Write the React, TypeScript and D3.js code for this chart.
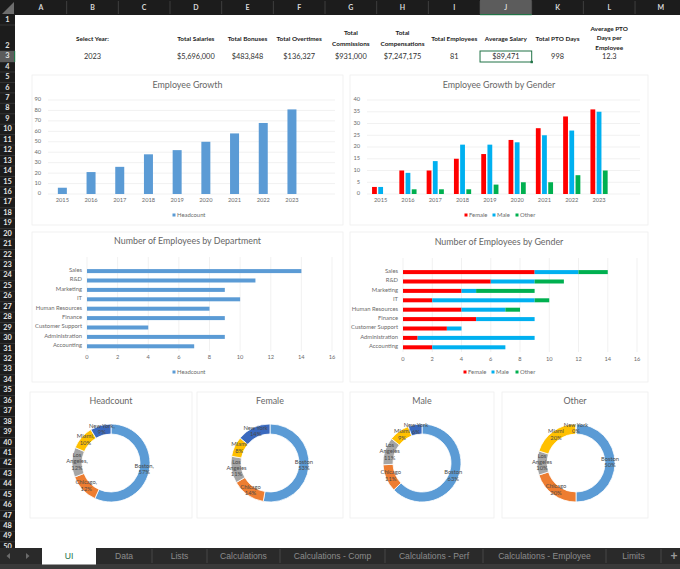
import React from 'react';
import * as d3 from 'd3';

const years = ['2015', '2016', '2017', '2018', '2019', '2020', '2021', '2022', '2023'];
const headcountByYear = [6, 21, 26, 38, 42, 50, 58, 68, 81];
const femaleByYear = [3, 10, 10, 15, 17, 23, 28, 33, 36];
const maleByYear = [3, 9, 14, 21, 21, 22, 25, 27, 35];
const otherByYear = [0, 2, 2, 2, 4, 5, 5, 8, 10];

const departments = ['Sales', 'R&D', 'Marketing', 'IT', 'Human Resources', 'Finance', 'Customer Support', 'Administration', 'Accounting'];
const headcountByDept = [14, 11, 9, 10, 8, 9, 4, 9, 7];
const femaleByDept = [9, 6, 4, 2, 4, 5, 3, 1, 2];
const maleByDept = [3, 3, 1, 7, 3, 4, 1, 8, 5];
const otherByDept = [2, 2, 4, 1, 1, 0, 0, 0, 0];

const cities = ['Boston', 'Chicago', 'Los Angeles', 'Miami', 'New York'];
const headcountByCity = [46, 10, 10, 8, 7];
const femaleByCity = [19, 5, 4, 3, 5];
const maleByCity = [22, 4, 4, 3, 2];
const otherByCity = [5, 2, 1, 2, 0];

const columnLetters = ['A', 'B', 'C', 'D', 'E', 'F', 'G', 'H', 'I', 'J', 'K', 'L', 'M'];
const kpiColumns = [1, 3, 4, 5, 6, 7, 8, 9, 10, 11];
const kpiLabels = [
  ['Select Year:'], ['Total Salaries'], ['Total Bonuses'], ['Total Overtimes'],
  ['Total', 'Commissions'], ['Total', 'Compensations'], ['Total Employees'],
  ['Average Salary'], ['Total PTO Days'], ['Average PTO', 'Days per', 'Employee'],
];
const kpiValues = ['2023', '$5,696,000', '$483,848', '$136,327', '$931,000', '$7,247,175', '81', '$89,471', '998', '12.3'];

const sheetTabs = ['UI', 'Data', 'Lists', 'Calculations', 'Calculations - Comp', 'Calculations - Perf', 'Calculations - Employee', 'Limits'];
const tabEdges = [42, 96, 152, 207, 280, 385, 483, 606, 661];

const BLUE = '#5B9BD5';
const RED = '#FF0000';
const CYAN = '#00B0F0';
const GREEN = '#00B050';
const cityColors = ['#5B9BD5', '#ED7D31', '#A5A5A5', '#FFC000', '#3A69BE'];
const FONT = 'Lato, "Open Sans", sans-serif';
const GRID = '#ebebeb';
const TICK = '#6a6a6a';

const colWidth = 51.67;
const colX = (i: number) => 15 + colWidth * i;
const rowTop = (n: number) => (n === 1 ? 15 : n === 2 ? 25 : n === 3 ? 51 : n === 4 ? 62 : 72 + (n - 5) * 10.44);
const rowBottom = (n: number) => (n === 1 ? 25 : n === 2 ? 51 : n === 3 ? 62 : n === 4 ? 72 : rowTop(n + 1));

type Box = { x0: number; x1: number; y0: number; y1: number };
type Series = { name: string; color: string; values: number[] };

const Card = ({ x0, x1, y0, y1 }: Box) => (
  <rect x={x0} y={y0} width={x1 - x0} height={y1 - y0} fill="#fff" stroke="#eeeeee" strokeWidth={0.8} />
);

const Title = ({ x, y, text }: { x: number; y: number; text: string }) => (
  <text x={x} y={y} textAnchor="middle" dominantBaseline="middle" fontFamily={FONT} fontSize={8.9} fill="#666">{text}</text>
);

const Legend = ({ series, xs, y }: { series: Series[]; xs: number[]; y: number }) => (
  <g>
    {series.map((s, i) => (
      <g key={s.name}>
        <rect x={xs[i] - 1.5} y={y - 1.5} width={3} height={3} fill={s.color} />
        <text x={xs[i] + 3} y={y} dominantBaseline="middle" fontFamily={FONT} fontSize={5.9} fill={TICK}>{s.name}</text>
      </g>
    ))}
  </g>
);

// clustered columns by year, the blank last band is what the sheet's range leaves empty
const ColumnChart = (props: {
  card: Box; plot: Box; max: number; step: number; title: string; titleY: number;
  series: Series[]; barW: number; gap: number; legendX: number[]; legendY: number; labelY: number;
}) => {
  const { card, plot, max, step, title, titleY, series, barW, gap, legendX, legendY, labelY } = props;
  const x = d3.scaleBand<string>().domain([...years, '']).range([plot.x0, plot.x1]);
  const y = d3.scaleLinear().domain([0, max]).range([plot.y1, plot.y0]);
  const groupW = series.length * barW + (series.length - 1) * gap;
  return (
    <g>
      <Card {...card} />
      <Title x={(card.x0 + card.x1) / 2} y={titleY} text={title} />
      {d3.range(0, max + step, step).map(t => (
        <g key={t}>
          <line x1={plot.x0} x2={plot.x1} y1={y(t)} y2={y(t)} stroke={GRID} strokeWidth={0.7} />
          <text x={plot.x0 - 7} y={y(t)} textAnchor="end" dominantBaseline="middle" fontFamily={FONT} fontSize={5.7} fill={TICK}>{t}</text>
        </g>
      ))}
      {years.map((yr, i) => {
        const cx = (x(yr) as number) + x.bandwidth() / 2;
        return (
          <g key={yr}>
            {series.map((s, j) => (
              <rect key={s.name} x={cx - groupW / 2 + j * (barW + gap)} y={y(s.values[i])} width={barW} height={y(0) - y(s.values[i])} fill={s.color} />
            ))}
            <text x={cx} y={labelY} textAnchor="middle" dominantBaseline="middle" fontFamily={FONT} fontSize={5.7} fill={TICK}>{yr}</text>
          </g>
        );
      })}
      <Legend series={series} xs={legendX} y={legendY} />
    </g>
  );
};

// horizontal stacked bars by department, blank band on top, first department below it
const BarChart = (props: {
  card: Box; plot: Box; title: string; titleY: number; series: Series[];
  legendX: number[]; legendY: number; tickY: number;
}) => {
  const { card, plot, title, titleY, series, legendX, legendY, tickY } = props;
  const x = d3.scaleLinear().domain([0, 16]).range([plot.x0, plot.x1]);
  const y = d3.scaleBand<string>().domain(['', ...departments]).range([plot.y0, plot.y1]);
  const barH = 4;
  return (
    <g>
      <Card {...card} />
      <Title x={(card.x0 + card.x1) / 2} y={titleY} text={title} />
      {x.ticks(8).map(t => (
        <g key={t}>
          <line x1={x(t)} x2={x(t)} y1={plot.y0} y2={plot.y1} stroke={GRID} strokeWidth={0.7} />
          <text x={x(t)} y={tickY} textAnchor="middle" dominantBaseline="middle" fontFamily={FONT} fontSize={5.7} fill={TICK}>{t}</text>
        </g>
      ))}
      {departments.map((d, i) => {
        const cy = (y(d) as number) + y.bandwidth() / 2;
        let acc = 0;
        return (
          <g key={d}>
            <text x={plot.x0 - 5} y={cy - 0.5} textAnchor="end" dominantBaseline="middle" fontFamily={FONT} fontSize={5.85} fill={TICK}>{d}</text>
            {series.map(s => {
              const from = acc;
              acc += s.values[i];
              return <rect key={s.name} x={x(from)} y={cy - barH / 2} width={x(acc) - x(from)} height={barH} fill={s.color} />;
            })}
          </g>
        );
      })}
      <Legend series={series} xs={legendX} y={legendY} />
    </g>
  );
};

const Donut = ({ card, cx, cy, title, values, comma }: { card: Box; cx: number; cy: number; title: string; values: number[]; comma?: boolean }) => {
  const total = d3.sum(values);
  const slices = d3.pie<number>().sort(null)(values);
  const arc = d3.arc<d3.PieArcDatum<number>>().innerRadius(29).outerRadius(39);
  const sep = comma ? ',' : '';
  return (
    <g>
      <Card {...card} />
      <Title x={(card.x0 + card.x1) / 2} y={402} text={title} />
      {slices.map((s, i) => (
        <path key={i} d={arc(s) as string} transform={`translate(${cx},${cy})`} fill={cityColors[i]} stroke="#fff" strokeWidth={0.8} />
      ))}
      {slices.map((s, i) => {
        const [lx, ly] = arc.centroid(s);
        const pct = `${Math.round((values[i] / total) * 100)}%`;
        const lines = cities[i] === 'Los Angeles' ? ['Los', `Angeles${sep}`, pct] : [`${cities[i]}${sep}`, pct];
        return (
          <text key={i} x={cx + lx} y={cy + ly - ((lines.length - 1) * 6.4) / 2} textAnchor="middle" fontFamily={FONT} fontSize={5.8} fill="#4a4a4a" dominantBaseline="middle">
            {lines.map((l, k) => <tspan key={k} x={cx + lx} dy={k === 0 ? 0 : 6.4}>{l}</tspan>)}
          </text>
        );
      })}
    </g>
  );
};

const SheetChrome = () => {
  const rows = d3.range(1, 51);
  return (
    <g fontFamily={FONT}>
      <rect x={0} y={0} width={680} height={15} fill="#1c1c1c" />
      <rect x={0} y={0} width={15} height={548} fill="#1c1c1c" />
      <path d="M2 14 L14 14 L14 2 Z" fill="#6e6e6e" />
      {columnLetters.map((c, i) => (
        <g key={c}>
          {c === 'J' && <rect x={colX(i)} y={0} width={colWidth} height={15} fill="#5c5c5c" />}
          {c === 'J' && <rect x={colX(i)} y={14} width={colWidth} height={1.2} fill="#217346" />}
          <line x1={colX(i + 1)} x2={colX(i + 1)} y1={1} y2={14} stroke="#555" strokeWidth={0.6} />
          <text x={colX(i) + colWidth / 2} y={8} textAnchor="middle" dominantBaseline="middle" fontSize={7} fontWeight={700} fill="#d8d8d8">{c}</text>
        </g>
      ))}
      {rows.map(n => (
        <g key={n}>
          {n === 3 && <rect x={0} y={rowTop(3)} width={15} height={rowBottom(3) - rowTop(3)} fill="#5c5c5c" />}
          {n === 3 && <rect x={14} y={rowTop(3)} width={1.2} height={rowBottom(3) - rowTop(3)} fill="#217346" />}
          <line x1={0} x2={15} y1={rowBottom(n)} y2={rowBottom(n)} stroke="#5a5a5a" strokeWidth={0.4} />
          <text x={7.5} y={n === 2 ? 46 : (rowTop(n) + rowBottom(n)) / 2} textAnchor="middle" dominantBaseline="middle" fontSize={7.4} fontWeight={700} fill="#e2e2e2">{n}</text>
        </g>
      ))}
      <rect x={0} y={548} width={680} height={21} fill="#2a2a2a" />
      <rect x={0} y={564} width={680} height={5} fill="#3a3a3a" />
      <path d="M10 553 L6.5 556 L10 559 Z M26 553 L29.5 556 L26 559 Z" fill="#6b6b6b" />
      {sheetTabs.map((t, i) => {
        const x0 = tabEdges[i];
        const x1 = tabEdges[i + 1];
        return (
          <g key={t}>
            {i === 0 && <rect x={x0} y={548} width={x1 - x0} height={16.5} fill="#fff" />}
            {i > 1 && <line x1={x0} x2={x0} y1={549} y2={563} stroke="#555" strokeWidth={0.7} />}
            <text x={(x0 + x1) / 2} y={557} textAnchor="middle" dominantBaseline="middle" fontFamily={'"Liberation Sans", sans-serif'} fontSize={8.6} fill={i === 0 ? '#217346' : '#8c8c8c'}>{t}</text>
          </g>
        );
      })}
      <line x1={661} x2={661} y1={549} y2={563} stroke="#555" strokeWidth={0.7} />
      <text x={674} y={557} textAnchor="middle" dominantBaseline="middle" fontFamily={'"Liberation Sans", sans-serif'} fontSize={12} fontWeight={700} fill="#9a9a9a">+</text>
    </g>
  );
};

const Kpis = () => (
  <g fontFamily={FONT}>
    <defs>
      <clipPath id="row2"><rect x={0} y={25} width={680} height={25.4} /></clipPath>
    </defs>
    {kpiColumns.map((col, i) => {
      const cx = colX(col) + colWidth / 2;
      const lines = kpiLabels[i];
      const lh = lines.length === 3 ? 9.6 : 10.6;
      const startY = lines.length === 1 ? 39 : lines.length === 2 ? 33.5 : 29;
      return (
        <g key={col}>
          <g clipPath="url(#row2)">
            {lines.map((l, k) => (
              <text key={k} x={cx} y={startY + k * lh} textAnchor="middle" dominantBaseline="middle" fontSize={6.4} fontWeight={700} fill="#1a1a1a">{l}</text>
            ))}
          </g>
          <text x={cx} y={57} textAnchor="middle" dominantBaseline="middle" fontSize={7.4} fill="#333">{kpiValues[i]}</text>
        </g>
      );
    })}
    <rect x={colX(9)} y={51} width={colWidth} height={11} fill="none" stroke="#217346" strokeWidth={1} />
    <rect x={colX(10) - 1.2} y={60.8} width={2.4} height={2.4} fill="#217346" />
  </g>
);

export default function App() {
  const headcount: Series[] = [{ name: 'Headcount', color: BLUE, values: headcountByYear }];
  const gender: Series[] = [
    { name: 'Female', color: RED, values: femaleByYear },
    { name: 'Male', color: CYAN, values: maleByYear },
    { name: 'Other', color: GREEN, values: otherByYear },
  ];
  const deptTotal: Series[] = [{ name: 'Headcount', color: BLUE, values: headcountByDept }];
  const deptGender: Series[] = [
    { name: 'Female', color: RED, values: femaleByDept },
    { name: 'Male', color: CYAN, values: maleByDept },
    { name: 'Other', color: GREEN, values: otherByDept },
  ];
  return (
    <svg width={680} height={569} viewBox="0 0 680 569" style={{ position: 'absolute', left: 0, top: 0, display: 'block', background: '#fff' }}>
      <Kpis />
      <ColumnChart
        card={{ x0: 32, x1: 343, y0: 75, y1: 225 }} plot={{ x0: 48, x1: 335, y0: 100, y1: 194 }}
        max={90} step={10} title="Employee Growth" titleY={86} series={headcount} barW={9} gap={0}
        legendX={[174]} legendY={215} labelY={201}
      />
      <ColumnChart
        card={{ x0: 350, x1: 648, y0: 75, y1: 225 }} plot={{ x0: 367, x1: 640, y0: 100, y1: 194 }}
        max={40} step={5} title="Employee Growth by Gender" titleY={86} series={gender} barW={4.8} gap={1.4}
        legendX={[466, 494, 517]} legendY={215} labelY={201}
      />
      <BarChart
        card={{ x0: 32, x1: 343, y0: 232, y1: 382 }} plot={{ x0: 87, x1: 332, y0: 257, y1: 351 }}
        title="Number of Employees by Department" titleY={242} series={deptTotal}
        legendX={[174]} legendY={372} tickY={358}
      />
      <BarChart
        card={{ x0: 350, x1: 648, y0: 232, y1: 382 }} plot={{ x0: 403, x1: 637, y0: 258, y1: 352 }}
        title="Number of Employees by Gender" titleY={243} series={deptGender}
        legendX={[465, 493, 517]} legendY={372} tickY={360}
      />
      <Donut card={{ x0: 30, x1: 192, y0: 392, y1: 518 }} cx={111} cy={463} title="Headcount" values={headcountByCity} comma />
      <Donut card={{ x0: 197, x1: 343, y0: 392, y1: 518 }} cx={270} cy={463} title="Female" values={femaleByCity} />
      <Donut card={{ x0: 350, x1: 494, y0: 392, y1: 518 }} cx={422} cy={463} title="Male" values={maleByCity} />
      <Donut card={{ x0: 502, x1: 648, y0: 392, y1: 518 }} cx={576} cy={463} title="Other" values={otherByCity} />
      <SheetChrome />
    </svg>
  );
}
